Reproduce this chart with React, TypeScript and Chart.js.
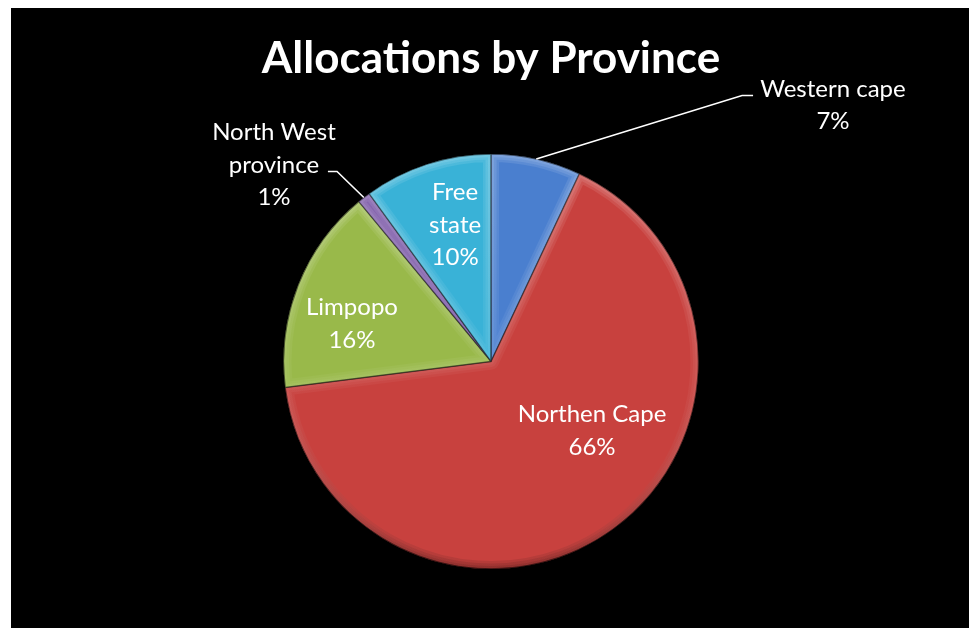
import React, { useEffect, useRef } from 'react';
import { Chart, registerables } from 'chart.js';

Chart.register(...registerables);

// ---- data ----
const TITLE = 'Allocations by Province';
const provinces = ['Western cape', 'Northen Cape', 'Limpopo', 'North West province', 'Free state'];
const shares = [7, 66, 16, 1, 10];
const nameLines = [['Western cape'], ['Northen Cape'], ['Limpopo'], ['North West', 'province'], ['Free', 'state']];
const sliceColors = ['#4a7fcf', '#c8413e', '#99b94a', '#7a57a6', '#39b2d7'];

// ---- label placement (in units of the pie radius, relative to the pie centre) ----
const labelPos = [
  { x: 1.648, y: -1.236, leader: [[1.21, -1.282], [1.263, -1.282]] },
  { x: 0.487, y: 0.333 },
  { x: -0.67, y: -0.181 },
  { x: -1.046, y: -0.947, leader: [[-0.742, -0.916], [-0.786, -0.916]] },
  { x: -0.173, y: -0.658 },
];

const FONT = 'Lato, "Open Sans", "DejaVu Sans", sans-serif';
const W = 958;
const H = 620;
const RADIUS = 207.5;
const LINE_H = 32.5;

const decorPlugin = {
  id: 'decor',
  beforeDraw(chart: any) {
    const ctx = chart.ctx;
    ctx.save();
    ctx.fillStyle = '#000';
    ctx.fillRect(0, 0, chart.width, chart.height);
    ctx.restore();
  },
  afterDatasetsDraw(chart: any) {
    const ctx = chart.ctx;
    const meta = chart.getDatasetMeta(0);
    const total = shares.reduce((a, b) => a + b, 0);
    meta.data.forEach((arc: any) => {
      const { x, y, startAngle, endAngle, outerRadius } = arc.getProps(['x', 'y', 'startAngle', 'endAngle', 'outerRadius'], true);
      // soft bevel band
      ctx.save();
      ctx.beginPath();
      ctx.moveTo(x, y);
      ctx.arc(x, y, outerRadius, startAngle, endAngle);
      ctx.closePath();
      ctx.clip();
      ctx.lineJoin = 'round';
      [16, 11, 6].forEach((w) => {
        const g = ctx.createLinearGradient(0, y - outerRadius, 0, y + outerRadius);
        g.addColorStop(0, 'rgba(255,255,255,0.10)');
        g.addColorStop(0.55, 'rgba(255,255,255,0.04)');
        g.addColorStop(1, 'rgba(0,0,0,0.10)');
        ctx.strokeStyle = g;
        ctx.lineWidth = w;
        ctx.stroke();
      });
      ctx.strokeStyle = 'rgba(0,0,0,0.4)';
      ctx.lineWidth = 1.5;
      ctx.stroke();
      ctx.restore();
    });
    // labels
    meta.data.forEach((arc: any, i: number) => {
      const { x, y, startAngle, endAngle, outerRadius } = arc.getProps(['x', 'y', 'startAngle', 'endAngle', 'outerRadius'], true);
      const lp = labelPos[i];
      const pct = Math.round((shares[i] / total) * 100) + '%';
      const lines = [...nameLines[i], pct];
      const cx = x + lp.x * outerRadius;
      const cy = y + lp.y * outerRadius;
      ctx.save();
      if (lp.leader) {
        const mid = (startAngle + endAngle) / 2;
        ctx.beginPath();
        ctx.moveTo(x + Math.cos(mid) * outerRadius, y + Math.sin(mid) * outerRadius);
        lp.leader.forEach(([lx, ly]) => ctx.lineTo(x + lx * outerRadius, y + ly * outerRadius));
        ctx.strokeStyle = '#fff';
        ctx.lineWidth = 1.6;
        ctx.stroke();
      }
      ctx.fillStyle = '#fff';
      ctx.font = `24px ${FONT}`;
      ctx.textAlign = 'center';
      ctx.textBaseline = 'middle';
      const n = lines.length;
      lines.forEach((t, k) => {
        ctx.fillText(t, cx, cy + (k - (n - 1) / 2) * LINE_H);
      });
      ctx.restore();
    });
    // title
    const area = chart.chartArea;
    ctx.save();
    ctx.fillStyle = '#fff';
    ctx.font = `bold 44px ${FONT}`;
    ctx.textAlign = 'center';
    ctx.textBaseline = 'alphabetic';
    ctx.fillText(TITLE, (area.left + area.right) / 2, 65);
    ctx.restore();
  },
};

export default function App() {
  const ref = useRef<HTMLCanvasElement | null>(null);
  useEffect(() => {
    if (!ref.current) return;
    const chart = new Chart(ref.current, {
      type: 'pie',
      data: {
        labels: provinces,
        datasets: [
          {
            data: shares,
            backgroundColor: sliceColors,
            borderColor: 'rgba(0,0,0,0.35)',
            borderWidth: 1,
          },
        ],
      },
      options: {
        responsive: false,
        animation: false,
        radius: RADIUS,
        layout: { padding: { left: 272.5, right: 270.5, top: 146, bottom: 59 } },
        plugins: {
          legend: { display: false },
          title: { display: false },
          tooltip: { enabled: false },
        },
      } as any,
      plugins: [decorPlugin],
    });
    return () => chart.destroy();
  }, []);
  return (
    <div style={{ position: 'fixed', left: 11, top: 8, width: W, height: H, background: '#000' }}>
      <canvas ref={ref} width={W} height={H} style={{ width: W, height: H, display: 'block' }} />
    </div>
  );
}
